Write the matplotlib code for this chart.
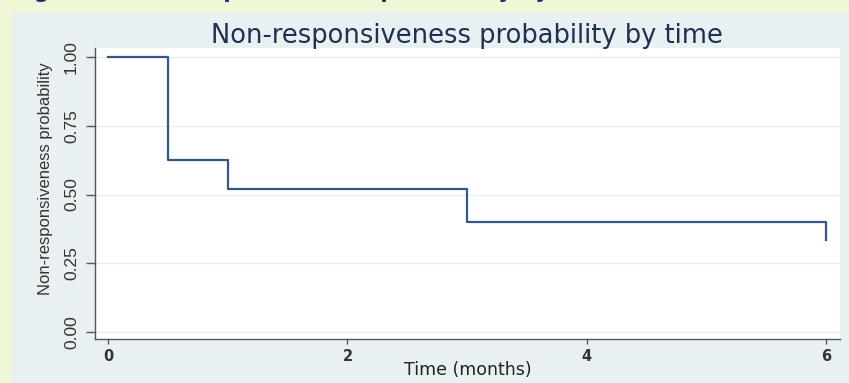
import matplotlib.pyplot as plt
from matplotlib.patches import Rectangle

# Kaplan-Meier style step data
time_months = [0, 0.5, 1, 3, 6]
prob_nonresp = [1.0, 0.625, 0.52, 0.40, 0.333]

y_ticks = [0.00, 0.25, 0.50, 0.75, 1.00]
y_tick_labels = ['0.00', '0.25', '0.50', '0.75', '1.00']
x_ticks = [0, 2, 4, 6]

caption = 'Figure 1: Non-responsiveness probability by time'
title = 'Non-responsiveness probability by time'

narrow = ['Liberation Sans', 'DejaVu Sans']

fig = plt.figure(figsize=(8.49, 3.83), dpi=100)
fig.patch.set_facecolor('#eff7d6')

# light grey-blue graph region (Stata style)
panel = Rectangle((11 / 849, 0), 1 - 11 / 849, (383 - 12) / 383,
                  transform=fig.transFigure, facecolor='#e8f0f2',
                  edgecolor='none', zorder=-10)
fig.add_artist(panel)

# caption cut off at the top edge
fig.text(12 / 849, 1 + 1.5 / 383, caption, fontsize=15.5, fontweight='bold',
         color='#1b2f6b', ha='left', va='baseline')

ax = fig.add_axes([95 / 849, (383 - 339) / 383, 745 / 849, 291 / 383])
ax.set_facecolor('white')

ax.step(time_months, prob_nonresp, where='post', color='#33598a', lw=1.6)

ax.set_xlim(-0.109, 6.115)
ax.set_ylim(-0.0255, 1.033)

ax.set_yticks(y_ticks)
ax.set_yticklabels(y_tick_labels, rotation=90, va='center', family=narrow,
                   fontsize=12.5, color='#333333')
ax.set_xticks(x_ticks)
ax.set_xticklabels([str(x) for x in x_ticks], fontsize=10.5, fontweight='bold',
                   color='#333333')

ax.tick_params(axis='y', direction='out', length=6.5, width=1, color='#555555', pad=5)
ax.tick_params(axis='x', direction='out', length=3.5, width=1, color='#555555', pad=4)

ax.grid(axis='y', color='#e6eff1', lw=1)
ax.set_axisbelow(True)

for side in ['top', 'right']:
    ax.spines[side].set_visible(False)
for side in ['left', 'bottom']:
    ax.spines[side].set_color('#555555')
    ax.spines[side].set_linewidth(1)

ax.set_ylabel('Non-responsiveness probability', family=narrow, fontsize=12,
              color='#333333')
ax.yaxis.set_label_coords(-0.057, 0.55)
ax.set_xlabel('Time (months)', fontsize=12.5, color='#222222')
ax.xaxis.set_label_coords(0.5, -0.075)

fig.text(467 / 849, (383 - 36) / 383, title, fontsize=18.5, color='#1f3050',
         ha='center', va='center')

fig.savefig('out.png', dpi=100, facecolor=fig.get_facecolor())
